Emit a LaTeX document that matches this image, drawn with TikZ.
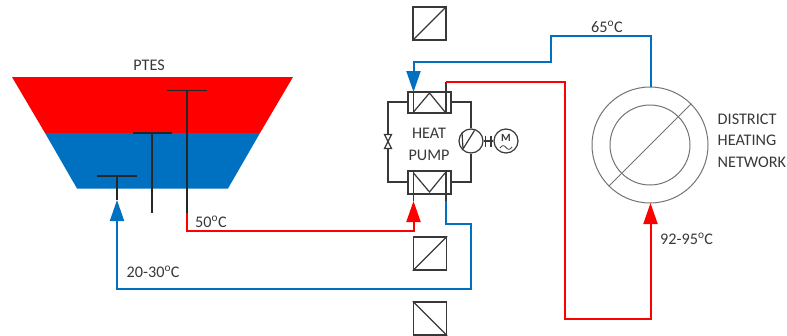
\documentclass[tikz,border=0pt]{standalone}
\usepackage{fontspec}
\setmainfont{Carlito}
\usetikzlibrary{arrows.meta}
\definecolor{hot}{RGB}{255,0,0}
\definecolor{cold}{RGB}{0,112,192}
\definecolor{ink}{RGB}{56,56,56}
\tikzset{
  x=1pt,y=-1pt,
  lab/.style={font=\fontsize{16.2}{19}\selectfont,text=ink,inner sep=0pt},
  hotpipe/.style={draw=hot,line width=2pt,line join=miter},
  coldpipe/.style={draw=cold,line width=2pt,line join=miter},
  hottip/.style={-{Triangle[length=21pt,width=14pt,fill=hot]}},
  coldtip/.style={-{Triangle[length=21pt,width=14pt,fill=cold]}},
  diffuser/.style={draw=black!85,line width=1.2pt},
  equip/.style={draw=ink,line width=1.2pt},
  wall/.style={draw=black!55,line width=1pt},
  sq/.style={draw=ink,line width=1.3pt,minimum size=33pt,inner sep=0pt},
  hxbox/.style={draw=ink,line width=1.2pt,inner sep=0pt,minimum width=43pt},
  ring/.style={circle,draw=black!55,line width=1pt,inner sep=0pt},
  roto/.style={circle,draw=ink,line width=1.2pt,inner sep=0pt,minimum size=24pt},
}
\begin{document}
\begin{tikzpicture}
\useasboundingbox (0,0) rectangle (787,335);
% storage
\fill[hot] (12,77) -- (293,77) -- (260,133) -- (45,133) -- cycle;
\fill[cold] (45,133) -- (260,133) -- (228,188.5) -- (77,188.5) -- cycle;
\node[lab] (ptes) at (149,65) {PTES};
% diffusers
\coordinate (d1l) at (97,176); \coordinate (d1r) at (137,176); \coordinate (d1) at (117,176);
\coordinate (d2l) at (133,133); \coordinate (d2r) at (172,133); \coordinate (d2) at (152,133);
\coordinate (d3l) at (167,90.5); \coordinate (d3r) at (207,90.5); \coordinate (d3) at (187,90.5);
\coordinate (d1e) at (117,200); \coordinate (d2e) at (152,213); \coordinate (d3e) at (187,213);
\draw[diffuser] (d1l) -- (d1r) (d1) -- (d1e);
\draw[diffuser] (d2l) -- (d2r) (d2) -- (d2e);
\draw[diffuser] (d3l) -- (d3r) (d3) -- (d3e);
% heat exchangers
\node[hxbox,minimum height=21pt] (cond) at (429.5,102.5) {};
\node[hxbox,minimum height=23pt] (evap) at (429.5,182.5) {};
\draw[equip] (413.5,82) -- (413.5,113) (446,82) -- (446,113);
\draw[equip] (413.5,112) -- (429.5,93) -- (445,112);
\draw[equip] (413.5,171) -- (413.5,201) (446,171) -- (446,201);
\draw[equip] (413.5,173) -- (429.5,192) -- (445,173);
% refrigerant loop
\node[roto] (comp) at (471,141) {};
\node[roto] (mot) at (506,141) {};
\coordinate (vt) at (388,134.5); \coordinate (vb) at (388,148.5); \coordinate (vm) at (388,141.5);
\draw[equip] (cond.west |- 0,102) -- (388,102) -- (vt);
\draw[equip] (evap.west |- 0,182) -- (388,182) -- (vb);
\draw[equip] (384.5,134.5) -- (391.5,134.5) -- (384.5,148.5) -- (391.5,148.5) -- cycle;
\draw[equip] (cond.east |- 0,102) -- (471,102) -- (comp.north);
\draw[equip] (evap.east |- 0,182) -- (471,182) -- (comp.south);
\draw[equip] (comp.east) -- (mot.west);
\draw[equip,line width=1.5pt] (485.5,135.5) -- (485.5,147) (491,135.5) -- (491,147);
\draw[equip] (474.5,130.5) -- (463,149) (462,132.5) -- (463,149);
\node[font=\fontsize{11}{11}\selectfont\bfseries,text=ink,inner sep=0pt] (mlab) at (506,137.5) {M};
\draw[equip,line width=.8pt] (500,148) .. controls (502,145) and (504,145) .. (506,147.5) .. controls (508,150) and (510,150) .. (512,147);
\node[lab] (hp1) at (429,133.5) {HEAT};
\node[lab] (hp2) at (429,155) {PUMP};
% district heating
\node[ring,minimum size=116pt] (dhn) at (650,145) {};
\node[ring,minimum size=80pt] (dhi) at (650,145) {};
\draw[wall] (dhn.-135) -- (dhn.45);
\node[lab,align=left,anchor=west] (dhl) at (717.5,140.5) {DISTRICT\\[2.5pt]HEATING\\[2.5pt]NETWORK};
% pipes
\coordinate (a2) at (187,231); \coordinate (a3) at (413.5,231); \coordinate (a4) at (413.5,201);
\draw[hotpipe,hottip] (d3e) -- (a2) -- (a3) -- (a4);
\coordinate (b1) at (446,201); \coordinate (b2) at (446,224); \coordinate (b3) at (471,224); \coordinate (b4) at (471,288.5); \coordinate (b5) at (117,288.5);
\draw[coldpipe,coldtip] (b1) -- (b2) -- (b3) -- (b4) -- (b5) -- (d1e);
\coordinate (c1) at (650.5,87); \coordinate (c2) at (650.5,36); \coordinate (c3) at (551,36); \coordinate (c4) at (551,62); \coordinate (c5) at (413.5,62); \coordinate (c6) at (413.5,92);
\draw[coldpipe,coldtip] (c1) -- (c2) -- (c3) -- (c4) -- (c5) -- (c6);
\coordinate (e1) at (446,82); \coordinate (e2) at (565,82); \coordinate (e3) at (565,318.5); \coordinate (e4) at (650.5,318.5); \coordinate (e5) at (650.5,203);
\draw[hotpipe,hottip] (e1) -- (e2) -- (e3) -- (e4) -- (e5);
% temperatures
\node[lab,anchor=west] (t50) at (195,222) {50\textsuperscript{o}C};
\node[lab,anchor=west] (t20) at (126.5,271.5) {20-30\textsuperscript{o}C};
\node[lab,anchor=west] (t65) at (591,26.5) {65\textsuperscript{o}C};
\node[lab,anchor=west] (t92) at (660,238.5) {92-95\textsuperscript{o}C};
% control squares
\node[sq] (s1) at (429.5,23.5) {};
\draw[equip] (s1.south west) -- (s1.north east);
\node[sq] (s2) at (430,253.5) {};
\draw[equip] (s2.south west) -- (s2.north east);
\node[sq] (s3) at (430,318.5) {};
\draw[equip] (s3.north west) -- (s3.south east);
\end{tikzpicture}
\end{document}
